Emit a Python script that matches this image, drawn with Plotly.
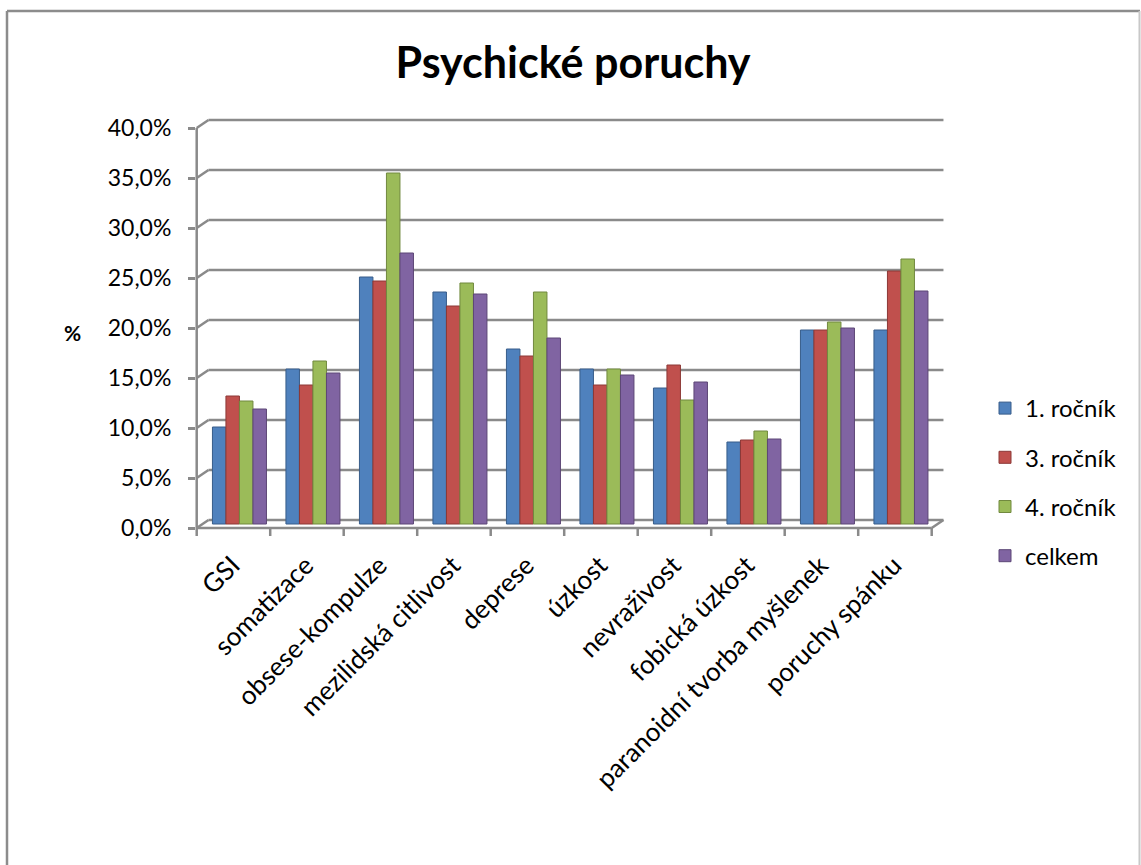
import plotly.graph_objects as go

# Percentages of students with elevated scores, by scale and year group
categories = [
    "GSI", "somatizace", "obsese-kompulze", "mezilidská citlivost", "deprese",
    "úzkost", "nevraživost", "fobická úzkost", "paranoidní tvorba myšlenek",
    "poruchy spánku",
]
rocnik_1 = [9.7, 15.5, 24.7, 23.2, 17.5, 15.5, 13.6, 8.2, 19.4, 19.4]
rocnik_3 = [12.8, 13.9, 24.3, 21.8, 16.8, 13.9, 15.9, 8.4, 19.4, 25.3]
rocnik_4 = [12.3, 16.3, 35.1, 24.1, 23.2, 15.5, 12.4, 9.3, 20.2, 26.5]
celkem = [11.5, 15.1, 27.1, 23.0, 18.6, 14.9, 14.2, 8.5, 19.6, 23.3]

series_names = ["1. ročník", "3. ročník", "4. ročník", "celkem"]
series_values = [rocnik_1, rocnik_3, rocnik_4, celkem]
y_ticks = [0, 5, 10, 15, 20, 25, 30, 35, 40]
y_tick_labels = ["0,0%", "5,0%", "10,0%", "15,0%", "20,0%", "25,0%", "30,0%", "35,0%", "40,0%"]

fills = ["#4F81BD", "#C0504D", "#9BBB59", "#8064A2"]
edges = ["#385D8A", "#8C3836", "#71893F", "#5C4776"]

W, H = 1141, 865
FONT = "Lato, Calibri, Carlito, sans-serif"
GRID = "#8a8a8a"

fig = go.Figure()
for i, (name, vals) in enumerate(zip(series_names, series_values)):
    fig.add_trace(go.Bar(
        x=categories, y=vals, name=name, legendgroup=name,
        marker=dict(color=fills[i], line=dict(color=edges[i], width=1)),
        yaxis="y",
    ))

# invisible helper trace carrying the value axis labels (front edge of the box)
fig.add_trace(go.Scatter(x=[categories[0]], y=[0], yaxis="y2", mode="markers",
                         marker=dict(opacity=0), showlegend=False, hoverinfo="skip"))

# pseudo-3D box: bars stand mid-depth; front edge sits F left / DY below them,
# back wall sits DX right / DY above the front edge (data units)
PX = 73.5           # pixels per category
F = 6 / PX
DX, DY = 0.16, 0.4
n = len(categories)
xl_front = -0.5 - F
xr_front = n - 0.5 - F

shapes = []
line_style = dict(color=GRID, width=2.5)
for v in y_ticks:
    # back-wall gridline
    shapes.append(dict(type="line", xref="x", yref="y", x0=xl_front + DX, x1=xr_front + DX,
                       y0=v + DY, y1=v + DY, line=line_style, layer="below"))
    # side-wall connector
    shapes.append(dict(type="line", xref="x", yref="y", x0=xl_front, x1=xl_front + DX,
                       y0=v - DY, y1=v + DY, line=line_style, layer="below"))
# front vertical axis line
shapes.append(dict(type="line", xref="x", yref="y", x0=xl_front, x1=xl_front,
                   y0=-DY, y1=40 - DY, line=line_style))
# floor front edge and right corner
shapes.append(dict(type="line", xref="x", yref="y", x0=xl_front, x1=xr_front,
                   y0=-DY, y1=-DY, line=line_style))
shapes.append(dict(type="line", xref="x", yref="y", x0=xr_front, x1=xr_front + DX,
                   y0=-DY, y1=DY, line=line_style))
# category tick marks
for k in range(n + 1):
    shapes.append(dict(type="line", xref="x", yref="y", x0=xl_front + k, x1=xl_front + k,
                       y0=-DY, y1=-DY - 0.8, line=line_style))
# chart border
shapes.append(dict(type="line", xref="paper", yref="paper", x0=7 / W, x1=7 / W,
                   y0=-0.01, y1=1 - 11 / H, line=dict(color="#8c8c8c", width=2.5)))
shapes.append(dict(type="line", xref="paper", yref="paper", x0=7 / W, x1=1140 / W,
                   y0=1 - 11 / H, y1=1 - 11 / H, line=dict(color="#8c8c8c", width=2.5)))
shapes.append(dict(type="line", xref="paper", yref="paper", x0=1139.5 / W, x1=1139.5 / W,
                   y0=-0.01, y1=1 - 11 / H, line=dict(color="#c8c8c8", width=2)))

# front-left corner of the box sits at 196.7 px
x_lo, x_hi = -0.7, 9.8
x_left_px = 196.7 + (x_lo - xl_front) * PX
x_right_px = 196.7 + (x_hi - xl_front) * PX

fig.update_layout(
    width=W, height=H,
    margin=dict(l=0, r=0, t=0, b=0),
    paper_bgcolor="white", plot_bgcolor="rgba(0,0,0,0)",
    font=dict(family=FONT, color="black"),
    title=dict(text="<b>Psychické poruchy</b>", x=573 / W, xanchor="center",
               y=1 - 63 / H, yanchor="middle", font=dict(size=43, family=FONT)),
    barmode="group", bargap=0.265, bargroupgap=0,
    xaxis=dict(domain=[x_left_px / W, x_right_px / W], range=[x_lo, x_hi],
               showgrid=False, zeroline=False, showline=False, ticks="",
               tickangle=-45, ticklabelshift=-7, tickfont=dict(size=26, family=FONT)),
    yaxis=dict(domain=[1 - 544 / H, 1 - 114 / H], range=[-2, 41],
               showgrid=False, zeroline=False, showline=False, showticklabels=False),
    yaxis2=dict(overlaying="y", anchor="free", position=195 / W, range=[-1.6, 41.4],
                tickmode="array", tickvals=y_ticks, ticktext=y_tick_labels,
                ticks="outside", ticklen=7, tickwidth=2.5, tickcolor=GRID,
                ticklabelstandoff=12,
                showgrid=False, zeroline=False, showline=False,
                tickfont=dict(size=23, family=FONT)),
    legend=dict(x=985 / W, xanchor="left", y=1 - 482 / H, yanchor="middle",
                font=dict(size=24, family=FONT), tracegroupgap=15,
                bgcolor="rgba(0,0,0,0)"),
    shapes=shapes,
    annotations=[dict(text="<b>%</b>", x=72 / W, y=1 - 332 / H, xref="paper", yref="paper",
                      xanchor="center", yanchor="middle",
                      showarrow=False, font=dict(size=21, family=FONT))],
)

fig.write_html("out.html")
